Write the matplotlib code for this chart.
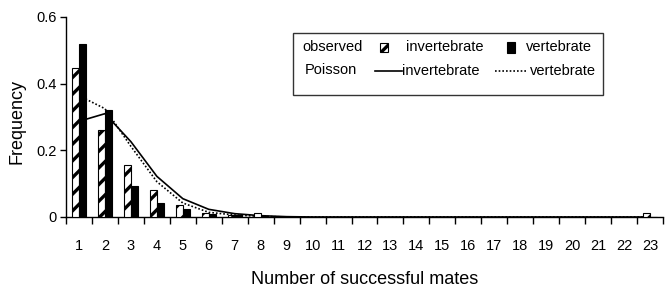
import matplotlib
matplotlib.use("Agg")
import matplotlib.pyplot as plt
from matplotlib.patches import Rectangle
from matplotlib.lines import Line2D
import numpy as np

plt.rcParams['font.family'] = ['Liberation Sans', 'DejaVu Sans']
plt.rcParams['hatch.linewidth'] = 2.4

categories = list(range(1, 24))
obs_invertebrate = [0.447, 0.26, 0.155, 0.082, 0.036, 0.011, 0.007, 0.012, 0, 0, 0, 0, 0, 0, 0, 0, 0, 0, 0, 0, 0, 0, 0.011]
obs_vertebrate = [0.519, 0.322, 0.094, 0.042, 0.024, 0.008, 0.006, 0.002, 0, 0, 0, 0, 0, 0, 0, 0, 0, 0, 0, 0, 0, 0, 0]
poisson_invertebrate = [0.287, 0.31, 0.226, 0.122, 0.055, 0.023, 0.01, 0.004, 0.001, 0, 0, 0, 0, 0, 0, 0, 0, 0, 0, 0, 0, 0, 0]
poisson_vertebrate = [0.364, 0.325, 0.212, 0.106, 0.042, 0.014, 0.006, 0.002, 0, 0, 0, 0, 0, 0, 0, 0, 0, 0, 0, 0, 0, 0, 0]
yticks = [0, 0.2, 0.4, 0.6]
ytick_labels = ["0", "0.2", "0.4", "0.6"]

W, H = 672, 287
fig = plt.figure(figsize=(W / 100, H / 100), dpi=100)
ax = fig.add_axes([66 / W, 1 - 217 / H, 597 / W, 200 / H])

x = np.array(categories)
bw = 0.27
ax.plot(x, poisson_invertebrate, color='black', lw=1.2, zorder=2)
ax.plot(x, poisson_vertebrate, color='black', lw=1.2, linestyle=(0, (1, 1.2)), zorder=2)
ax.bar(x - bw / 2, obs_invertebrate, width=bw, facecolor='white', edgecolor='black',
       hatch='//', linewidth=0.8, zorder=3)
ax.bar(x + bw / 2, obs_vertebrate, width=bw, facecolor='black', edgecolor='black',
       linewidth=0.8, zorder=3)

ax.set_xlim(0.5, 23.5)
ax.set_ylim(0, 0.6)
for s in ['top', 'right']:
    ax.spines[s].set_visible(False)
ax.spines['left'].set_linewidth(1.0)
ax.spines['bottom'].set_linewidth(1.0)

ax.set_xticks(x)
ax.set_xticklabels([str(c) for c in categories], fontsize=10.5)
ax.set_xticks(np.arange(0.5, 24, 1), minor=True)
ax.tick_params(axis='x', which='major', length=0, pad=16)
ax.tick_params(axis='x', which='minor', length=5, width=1, direction='out')
ax.set_yticks(yticks)
ax.set_yticklabels(ytick_labels, fontsize=10.5)
ax.tick_params(axis='y', length=4, width=1, direction='out', pad=3)

ax.set_xlabel("Number of successful mates", fontsize=13)
ax.xaxis.set_label_coords(0.5, -0.27)
ax.set_ylabel("Frequency", fontsize=13)
ax.yaxis.set_label_coords(-0.068, 0.48)

# legend (drawn manually in figure pixel coordinates)
def fx(px):
    return px / W

def fy(py):
    return 1 - py / H

fig.patches.append(Rectangle((fx(293), fy(95)), (603 - 293) / W, (95 - 33) / H,
                             transform=fig.transFigure, facecolor='white',
                             edgecolor='#333333', lw=1.0, zorder=5))
lfs = 10.5
r1, r2 = 47, 71
fig.text(fx(302), fy(r1), "observed", fontsize=lfs, va='center', ha='left', zorder=6)
fig.patches.append(Rectangle((fx(380), fy(52)), 8 / W, 9 / H, transform=fig.transFigure,
                             facecolor='white', edgecolor='black', hatch='//', lw=0.8, zorder=6))
fig.text(fx(406), fy(r1), "invertebrate", fontsize=lfs, va='center', ha='left', zorder=6)
fig.patches.append(Rectangle((fx(507), fy(53)), 8 / W, 11 / H, transform=fig.transFigure,
                             facecolor='black', edgecolor='black', lw=0.8, zorder=6))
fig.text(fx(526), fy(r1), "vertebrate", fontsize=lfs, va='center', ha='left', zorder=6)

fig.text(fx(305), fy(r2 - 1), "Poisson", fontsize=lfs, va='center', ha='left', zorder=6)
fig.lines.append(Line2D([fx(375), fx(402)], [fy(r2), fy(r2)], transform=fig.transFigure,
                        color='black', lw=1.2, zorder=6))
fig.text(fx(402), fy(r2), "invertebrate", fontsize=lfs, va='center', ha='left', zorder=6)
fig.lines.append(Line2D([fx(495), fx(527)], [fy(r2), fy(r2)], transform=fig.transFigure,
                        color='black', lw=1.2, linestyle=(0, (1, 1.2)), zorder=6))
fig.text(fx(530), fy(r2), "vertebrate", fontsize=lfs, va='center', ha='left', zorder=6)

fig.savefig("out.png", dpi=100)
